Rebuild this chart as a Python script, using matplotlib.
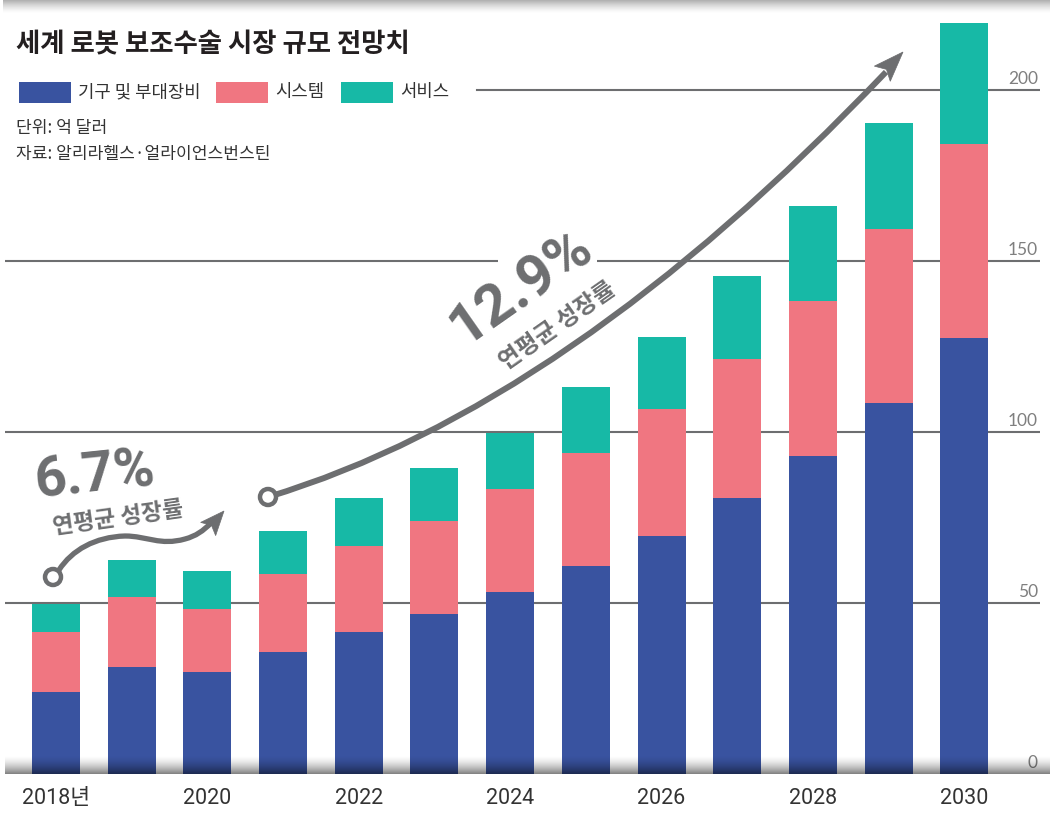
import matplotlib
matplotlib.use('Agg')
import matplotlib.pyplot as plt
import numpy as np
from matplotlib.path import Path
from matplotlib.patches import PathPatch, Circle, Polygon, Rectangle
import matplotlib.transforms as mtransforms

plt.rcParams['font.family'] = ['Noto Sans CJK KR', 'DejaVu Sans']

# ---------------- data ----------------
years = [2018, 2019, 2020, 2021, 2022, 2023, 2024, 2025, 2026, 2027, 2028, 2029, 2030]
equipment = [24.0, 31.3, 29.8, 35.7, 41.5, 46.8, 53.2, 60.8, 69.6, 80.7, 93.0, 108.5, 127.5]
system = [17.5, 20.5, 18.4, 22.8, 25.2, 27.2, 30.1, 33.1, 37.1, 40.6, 45.3, 50.9, 56.7]
service = [8.2, 10.8, 11.2, 12.5, 14.0, 15.5, 16.4, 19.3, 21.1, 24.3, 27.7, 31.0, 35.4]
series_names = ['기구 및 부대장비', '시스템', '서비스']
colors = ['#3953a0', '#f07681', '#17b9a6']
xtick_labels = ['2018년', '2020', '2022', '2024', '2026', '2028', '2030']
ytick_values = [0, 50, 100, 150, 200]

title = '세계 로봇 보조수술 시장 규모 전망치'
unit_text = '단위: 억 달러'
source_text = '자료: 알리라헬스·얼라이언스번스틴'

GRAY = '#6d6e70'

W, H = 1050, 823
fig = plt.figure(figsize=(W / 100, H / 100), dpi=100)
fig.patch.set_facecolor('white')

# main axes (pixel geometry)
ax_left, ax_right, ax_bottom, ax_top = 5, 1040, 774, 10
px_per_unit = 3.42
ax = fig.add_axes([ax_left / W, (H - ax_bottom) / H, (ax_right - ax_left) / W, (ax_bottom - ax_top) / H])
ax.set_xlim(-0.674, 13.0)
ax.set_ylim(0, (ax_bottom - ax_top) / px_per_unit)
ax.set_facecolor('none')
for s in ax.spines.values():
    s.set_visible(False)

x = np.arange(len(years))
# grid lines
for v in ytick_values[1:-1]:
    ax.axhline(v, color=GRAY, lw=1.5, zorder=1)
ax.axhline(200, xmin=(477 - ax_left) / (ax_right - ax_left), xmax=1, color=GRAY, lw=1.5, zorder=1)

bw = 0.634
eq = np.array(equipment)
sy = np.array(system)
sv = np.array(service)
ax.bar(x, eq, width=bw, color=colors[0], zorder=2, linewidth=0)
ax.bar(x, sy, bottom=eq, width=bw, color=colors[1], zorder=2, linewidth=0)
ax.bar(x, sv, bottom=eq + sy, width=bw, color=colors[2], zorder=2, linewidth=0)

ax.set_yticks([])
ax.set_xticks(x[::2])
ax.set_xticklabels(xtick_labels, fontsize=15.5, color='#333333',
                   family=['Roboto', 'Noto Sans CJK KR'])
ax.tick_params(axis='x', length=0, pad=10)

trans = mtransforms.blended_transform_factory(ax.transAxes, ax.transData)
for v in ytick_values:
    ax.text(1.0 - 2 / (ax_right - ax_left), v + 0.9, str(v), transform=trans,
            ha='right', va='bottom', fontsize=12.5, color='#7f7f7f',
            family=['Lato', 'DejaVu Sans'])

# ---------------- overlay (pixel coordinates) ----------------
ov = fig.add_axes([0, 0, 1, 1], zorder=5)
ov.set_facecolor('none')
ov.axis('off')

# bottom baseline gradient
n = 64
t = np.linspace(0, 1, n)
grad = np.zeros((n, 2, 4))
grad[:, :, 3] = (0.5 * t ** 1.6)[:, None]
ov.imshow(grad, extent=[5, 1050, 774, 755], origin='upper', aspect='auto', zorder=1, interpolation='bilinear')
# top gradient
grad2 = np.zeros((n, 2, 4))
grad2[:, :, 3] = (0.32 * (1 - t) ** 1.5)[:, None]
ov.imshow(grad2, extent=[3, 1050, 14, 0], origin='upper', aspect='auto', zorder=1, interpolation='bilinear')

ov.set_xlim(0, W)
ov.set_ylim(H, 0)

# title, legend, notes
ov.text(16, 45, title, fontsize=19, fontweight='bold', color='#231f20', va='center', ha='left')
leg_x = [19, 216, 341]
for lx, name, c in zip(leg_x, series_names, colors):
    ov.add_patch(Rectangle((lx, 82), 52, 21, color=c, lw=0))
    ov.text(lx + 59, 92, name, fontsize=12.8, color='#333333', va='center', ha='left')
ov.text(16, 128, unit_text, fontsize=12.3, color='#333333', va='center', ha='left')
ov.text(16, 154, source_text, fontsize=12.3, color='#333333', va='center', ha='left')

# small arrow (6.7%)
verts = [(59, 570), (72, 550), (95, 537), (125, 536),
         (147, 536), (160, 546), (185, 539),
         (196, 536), (203, 531), (211, 523)]
codes = [Path.MOVETO, Path.CURVE4, Path.CURVE4, Path.CURVE4,
         Path.CURVE4, Path.CURVE4, Path.CURVE4,
         Path.CURVE4, Path.CURVE4, Path.CURVE4]
ov.add_patch(PathPatch(Path(verts, codes), fill=False, ec=GRAY, lw=3.8, capstyle='butt', zorder=3))


def head(tip, d, length, hw, notch):
    d = np.array(d, float)
    d /= np.hypot(*d)
    nrm = np.array([-d[1], d[0]])
    tip = np.array(tip, float)
    b = tip - length * d
    return Polygon([tip, b + hw * nrm, b + notch * d, b - hw * nrm], closed=True,
                   fc=GRAY, ec=GRAY, lw=0.5, zorder=4)


ov.add_patch(head((224, 511), (0.66, -0.75), 24, 10, 5))
ov.add_patch(Circle((53, 577), 8, fc='white', ec=GRAY, lw=3.2, zorder=4))

# big arrow (12.9%)
verts2 = [(268, 497), (567, 407), (886, 72)]
codes2 = [Path.MOVETO, Path.CURVE3, Path.CURVE3]
ov.add_patch(PathPatch(Path(verts2, codes2), fill=False, ec=GRAY, lw=4.3, capstyle='butt', zorder=3))
ov.add_patch(head((903, 52), (0.69, -0.724), 30, 11, 6))
ov.add_patch(Circle((268, 497), 8, fc='white', ec=GRAY, lw=3.2, zorder=4))

# gap in 150 gridline behind the 12.9% text
ov.add_patch(Rectangle((498, 259), 99, 10, fc='white', ec='none', zorder=2))

# annotation texts
ov.text(95, 476, '6.7%', fontsize=40, fontweight='bold', color=GRAY, family=['Roboto', 'DejaVu Sans'],
        ha='center', va='center', rotation=6, rotation_mode='anchor', zorder=5)
ov.text(118, 518, '연평균 성장률', fontsize=16.5, fontweight='bold', color=GRAY,
        ha='center', va='center', rotation=8, rotation_mode='anchor', zorder=5)
ov.text(521, 288, '12.9%', fontsize=42, fontweight='bold', color=GRAY, family=['Roboto', 'DejaVu Sans'],
        ha='center', va='center', rotation=35, rotation_mode='anchor', zorder=5)
ov.text(557, 326, '연평균 성장률', fontsize=17, fontweight='bold', color=GRAY,
        ha='center', va='center', rotation=35, rotation_mode='anchor', zorder=5)

fig.savefig('out.png', dpi=100, facecolor='white')
